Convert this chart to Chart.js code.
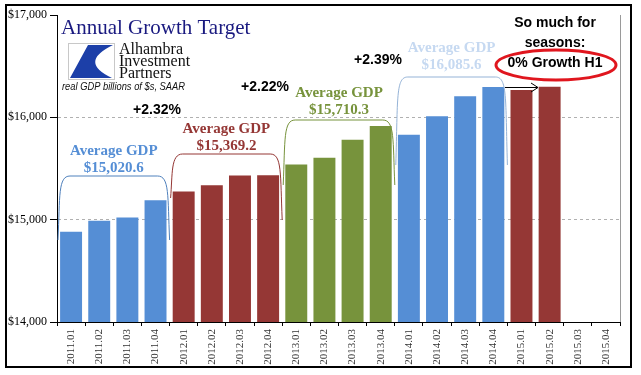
<!DOCTYPE html>
<html>
<head>
<meta charset="utf-8">
<script src="https://cdn.jsdelivr.net/npm/chart.js@4/dist/chart.umd.min.js"></script>
<style>
  body { margin: 0; background: #fff; }
  canvas { display: block; }
</style>
</head>
<body>
<canvas id="grafico" width="641" height="375"></canvas>
<script>
const quarters = ['2011.01', '2011.02', '2011.03', '2011.04',
  '2012.01', '2012.02', '2012.03', '2012.04',
  '2013.01', '2013.02', '2013.03', '2013.04',
  '2014.01', '2014.02', '2014.03', '2014.04',
  '2015.01', '2015.02', '2015.03', '2015.04'];

// real GDP, billions of $ SAAR
const gdp = [14881, 14990, 15021, 15190,
  15275, 15336, 15431, 15434,
  15538, 15606, 15780, 15916,
  15831, 16010, 16205, 16297,
  16268, 16300, null, null];

const yearColors = ['#558ED5', '#953735', '#77933C', '#558ED5', '#953735'];
const avgLabels = ['$15,020.6', '$15,369.2', '$15,710.3', '$16,085.6'];
const growthLabels = ['+2.32%', '+2.22%', '+2.39%'];
const yTicks = [14000, 15000, 16000, 17000];

const barColors = quarters.map((q, i) => yearColors[Math.floor(i / 4)]);

// bracket look for each year: colour, top y, left end y, right end y, label y
const brackets = [
  { color: '#4F81BD', text: '#558ED5', top: 176, yl: 240, yr: 240, ly: 151 },
  { color: '#953735', text: '#953735', top: 154, yl: 198, yr: 220, ly: 129 },
  { color: '#77933C', text: '#77933C', top: 120, yl: 185, yr: 185, ly: 93 },
  { color: '#95B3D7', text: '#C6D9F1', top: 77, yl: 165, yr: 165, ly: 48 },
];

const extras = {
  id: 'extras',
  beforeDraw(chart) {
    const ctx = chart.ctx;
    ctx.save();
    ctx.fillStyle = '#fff';
    ctx.fillRect(0, 0, chart.width, chart.height);
    ctx.restore();
  },
  afterDraw(chart) {
    const ctx = chart.ctx;
    const x = chart.scales.x;
    const area = chart.chartArea;
    const half = (x.getPixelForValue(1) - x.getPixelForValue(0)) / 2;
    ctx.save();

    // right border of the plot
    ctx.strokeStyle = '#9a9a9a';
    ctx.lineWidth = 1;
    ctx.beginPath();
    ctx.moveTo(Math.round(area.right) + 0.5, area.top);
    ctx.lineTo(Math.round(area.right) + 0.5, area.bottom);
    ctx.stroke();

    // brackets and average labels
    brackets.forEach((b, k) => {
      const x0 = x.getPixelForValue(k * 4) - half + 1;
      const x1 = x.getPixelForValue(k * 4 + 3) + half;
      ctx.strokeStyle = b.color;
      ctx.lineWidth = 1;
      ctx.beginPath();
      ctx.moveTo(x0, b.yl);
      ctx.bezierCurveTo(x0 + 2, b.top + 20, x0, b.top, x0 + 12, b.top);
      ctx.lineTo(x1 - 12, b.top);
      ctx.bezierCurveTo(x1, b.top, x1 - 2, b.top + 20, x1, b.yr);
      ctx.stroke();

      const cx = (x0 + x1) / 2;
      ctx.fillStyle = b.text;
      ctx.font = 'bold 15px "Liberation Serif"';
      ctx.textAlign = 'center';
      ctx.textBaseline = 'middle';
      ctx.fillText('Average GDP', cx, b.ly);
      ctx.fillText(avgLabels[k], cx, b.ly + 17);
    });

    // growth labels
    ctx.fillStyle = '#000';
    ctx.font = 'bold 14px "Liberation Sans"';
    ctx.textAlign = 'center';
    ctx.textBaseline = 'middle';
    ctx.fillText(growthLabels[0], 157, 110);
    ctx.fillText(growthLabels[1], 265, 87);
    ctx.fillText(growthLabels[2], 378, 60);

    // title
    ctx.fillStyle = '#1A1A80';
    ctx.font = '21px "Liberation Serif"';
    ctx.textAlign = 'left';
    ctx.fillText('Annual Growth Target', 61, 28);

    // logo
    ctx.fillStyle = '#fff';
    ctx.fillRect(68, 43, 46, 36);
    ctx.strokeStyle = '#c8c8c8';
    ctx.strokeRect(68.5, 43.5, 46, 36);
    ctx.fillStyle = '#1C3FA8';
    ctx.beginPath();
    ctx.moveTo(88, 45);
    ctx.lineTo(113, 45);
    ctx.quadraticCurveTo(78, 62, 112, 78);
    ctx.lineTo(70, 78);
    ctx.closePath();
    ctx.fill();
    ctx.fillStyle = '#111';
    ctx.font = '16px "Liberation Serif"';
    ctx.fillText('Alhambra', 119, 50);
    ctx.fillText('Investment', 119, 62);
    ctx.fillText('Partners', 119, 73.5);
    ctx.font = 'italic 11px "Liberation Sans"';
    ctx.fillText('real GDP billions of $s, SAAR', 62, 87, 123);

    // note on the right
    ctx.fillStyle = '#000';
    ctx.font = 'bold 14px "Liberation Sans"';
    ctx.textAlign = 'center';
    ctx.fillText('So much for', 555, 23);
    ctx.fillText('seasons:', 555, 43);
    ctx.fillText('0% Growth H1', 555, 63);
    ctx.strokeStyle = '#E0161E';
    ctx.lineWidth = 3;
    ctx.beginPath();
    ctx.ellipse(556, 65, 60, 15, 0, 0, Math.PI * 2);
    ctx.stroke();

    // arrow
    ctx.strokeStyle = '#000';
    ctx.lineWidth = 1;
    ctx.beginPath();
    ctx.moveTo(505, 87.5);
    ctx.lineTo(538, 87.5);
    ctx.moveTo(531, 83);
    ctx.lineTo(538, 87.5);
    ctx.lineTo(531, 92);
    ctx.stroke();

    // outer frame
    ctx.strokeStyle = '#000';
    ctx.lineWidth = 2;
    ctx.strokeRect(6, 5, 625, 362);
    ctx.restore();
  }
};

new Chart(document.getElementById('grafico'), {
  type: 'bar',
  data: {
    labels: quarters,
    datasets: [{
      data: gdp,
      backgroundColor: barColors,
      borderWidth: 0,
      categoryPercentage: 1,
      barPercentage: 0.78
    }]
  },
  options: {
    responsive: false,
    animation: false,
    layout: { padding: { top: 15, right: 21, bottom: 0, left: 0 } },
    plugins: { legend: { display: false }, tooltip: { enabled: false } },
    scales: {
      x: {
        grid: { drawOnChartArea: false, tickLength: 4, tickColor: '#000' },
        border: { color: '#000' },
        ticks: {
          autoSkip: false, minRotation: 90, maxRotation: 90, padding: 3,
          color: '#333', font: { family: 'Liberation Serif', size: 11 }
        },
        afterFit(scale) { scale.height = 53; }
      },
      y: {
        min: 14000,
        max: 17000,
        afterBuildTicks(scale) { scale.ticks = yTicks.map(v => ({ value: v })); },
        grid: {
          color: ctx => (ctx.tick && (ctx.tick.value === 15000 || ctx.tick.value === 16000)) ? '#b0b0b0' : 'rgba(0,0,0,0)',
          tickColor: '#000',
          tickLength: 7
        },
        border: { color: '#000', dash: [3, 3] },
        ticks: {
          padding: 3,
          color: '#000',
          font: { family: 'Liberation Serif', size: 12 },
          callback: v => '$' + v.toLocaleString('en-US')
        },
        afterFit(scale) { scale.width = 57; }
      }
    }
  },
  plugins: [extras]
});
</script>
</body>
</html>
